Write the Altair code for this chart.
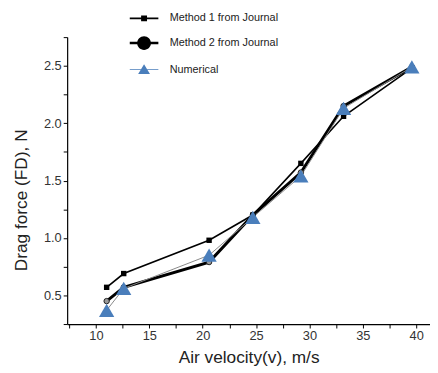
import altair as alt
import pandas as pd

series_names = ["Method 1 from Journal", "Method 2 from Journal", "Numerical"]
velocity = [11.0, 12.6, 20.6, 24.7, 29.2, 33.2, 39.6]
method1 = [0.57, 0.69, 0.98, 1.20, 1.65, 2.06, 2.48]
method2 = [0.45, 0.57, 0.79, 1.20, 1.57, 2.15, 2.49]
numerical = [0.37, 0.56, 0.85, 1.18, 1.54, 2.13, 2.49]

x_ticks = [7.5 + 2.5 * i for i in range(14)]
y_ticks = [0.25 * i for i in range(1, 12)]

rows = []
for name, vals in zip(series_names, [method1, method2, numerical]):
    for v, f in zip(velocity, vals):
        rows.append({"v": v, "F": f, "series": name})
df = pd.DataFrame(rows)

FONT = "Liberation Sans"
BLUE = "#4a7ebb"

x_enc = alt.X("v:Q", scale=alt.Scale(domain=[7.3, 41.3], nice=False, zero=False),
              axis=alt.Axis(values=x_ticks, title="Air velocity(v), m/s",
                            labelExpr="datum.value % 5 === 0 ? datum.label : ''",
                            labelFontSize=13, titleFontSize=17.5, titleFontWeight="normal",
                            labelColor="#333", titleColor="#222", titlePadding=6,
                            domainColor="black", tickColor="black", tickSize=4,
                            grid=False, labelFont=FONT, titleFont=FONT))
y_enc = alt.Y("F:Q", scale=alt.Scale(domain=[0.25, 2.75], nice=False, zero=False),
              axis=alt.Axis(values=y_ticks, title="Drag force (FD), N",
                            labelExpr="(round(datum.value*100) % 50 === 0) ? format(datum.value, '.1f') : ''",
                            labelFontSize=13, titleFontSize=17.5, titleFontWeight="normal",
                            labelColor="#333", titleColor="#222",
                            titleX=-37, titleY=165, titleAngle=-90, titleBaseline="bottom",
                            domainColor="black", tickColor="black", tickSize=4,
                            grid=False, labelFont=FONT, titleFont=FONT))

base = alt.Chart(df)


def only(i):
    return base.transform_filter(alt.datum.series == series_names[i])


line1 = only(0).mark_line(color="black", strokeWidth=1.6).encode(x=x_enc, y=y_enc)
line2 = only(1).mark_line(color="black", strokeWidth=3).encode(x=x_enc, y=y_enc)
line3 = only(2).mark_line(color="#888", strokeWidth=1).encode(x=x_enc, y=y_enc)

pts1 = only(0).mark_point(shape="square", filled=True, color="black", size=30,
                          opacity=1).encode(x=x_enc, y=y_enc)
pts2 = only(1).mark_point(shape="circle", filled=True, fill="#999", stroke="#222",
                          strokeWidth=1, size=30, opacity=1).encode(x=x_enc, y=y_enc)
pts3 = only(2).mark_point(shape="triangle-up", filled=True, color=BLUE, size=240,
                          opacity=1).encode(x=x_enc, y=y_enc)

legend_paths = [
    "M-1.45,-0.08H1.45V0.08H-1.45Z M-0.3,-0.3H0.3V0.3H-0.3Z",
    "M-1.45,-0.12H1.45V0.12H-1.45Z M-0.7,0A0.7,0.7 0 1,1 0.7,0A0.7,0.7 0 1,1 -0.7,0Z",
    "M-1.45,-0.04H1.45V0.04H-1.45Z M-0.6,0.45L0,-0.55L0.6,0.45Z",
]

legend_layer = base.transform_filter(alt.datum.F < 0).mark_point(
    filled=True, opacity=1, size=400).encode(
    x=x_enc, y=y_enc,
    shape=alt.Shape("series:N",
                    scale=alt.Scale(domain=series_names, range=legend_paths),
                    legend=alt.Legend(
                        orient="none", legendX=68, legendY=-29, title=None,
                        padding=0, symbolSize=400, rowPadding=10, labelOffset=16,
                        labelFontSize=11, labelFont=FONT, labelColor="#222",
                        symbolStrokeWidth=0)),
    color=alt.Color("series:N",
                    scale=alt.Scale(domain=series_names, range=["black", "black", BLUE])),
)

chart = alt.layer(line2, line1, line3, pts2, pts1, pts3, legend_layer).properties(
    width=368, height=291,
    autosize=alt.AutoSizeParams(type="none"),
    padding={"left": 60, "top": 27, "right": 0, "bottom": 40},
).configure_view(stroke=None).configure_axisX(domainWidth=1.2).configure_axisY(domainWidth=1.2)

chart.save("out.html", embed_options={"renderer": "svg", "actions": False})
